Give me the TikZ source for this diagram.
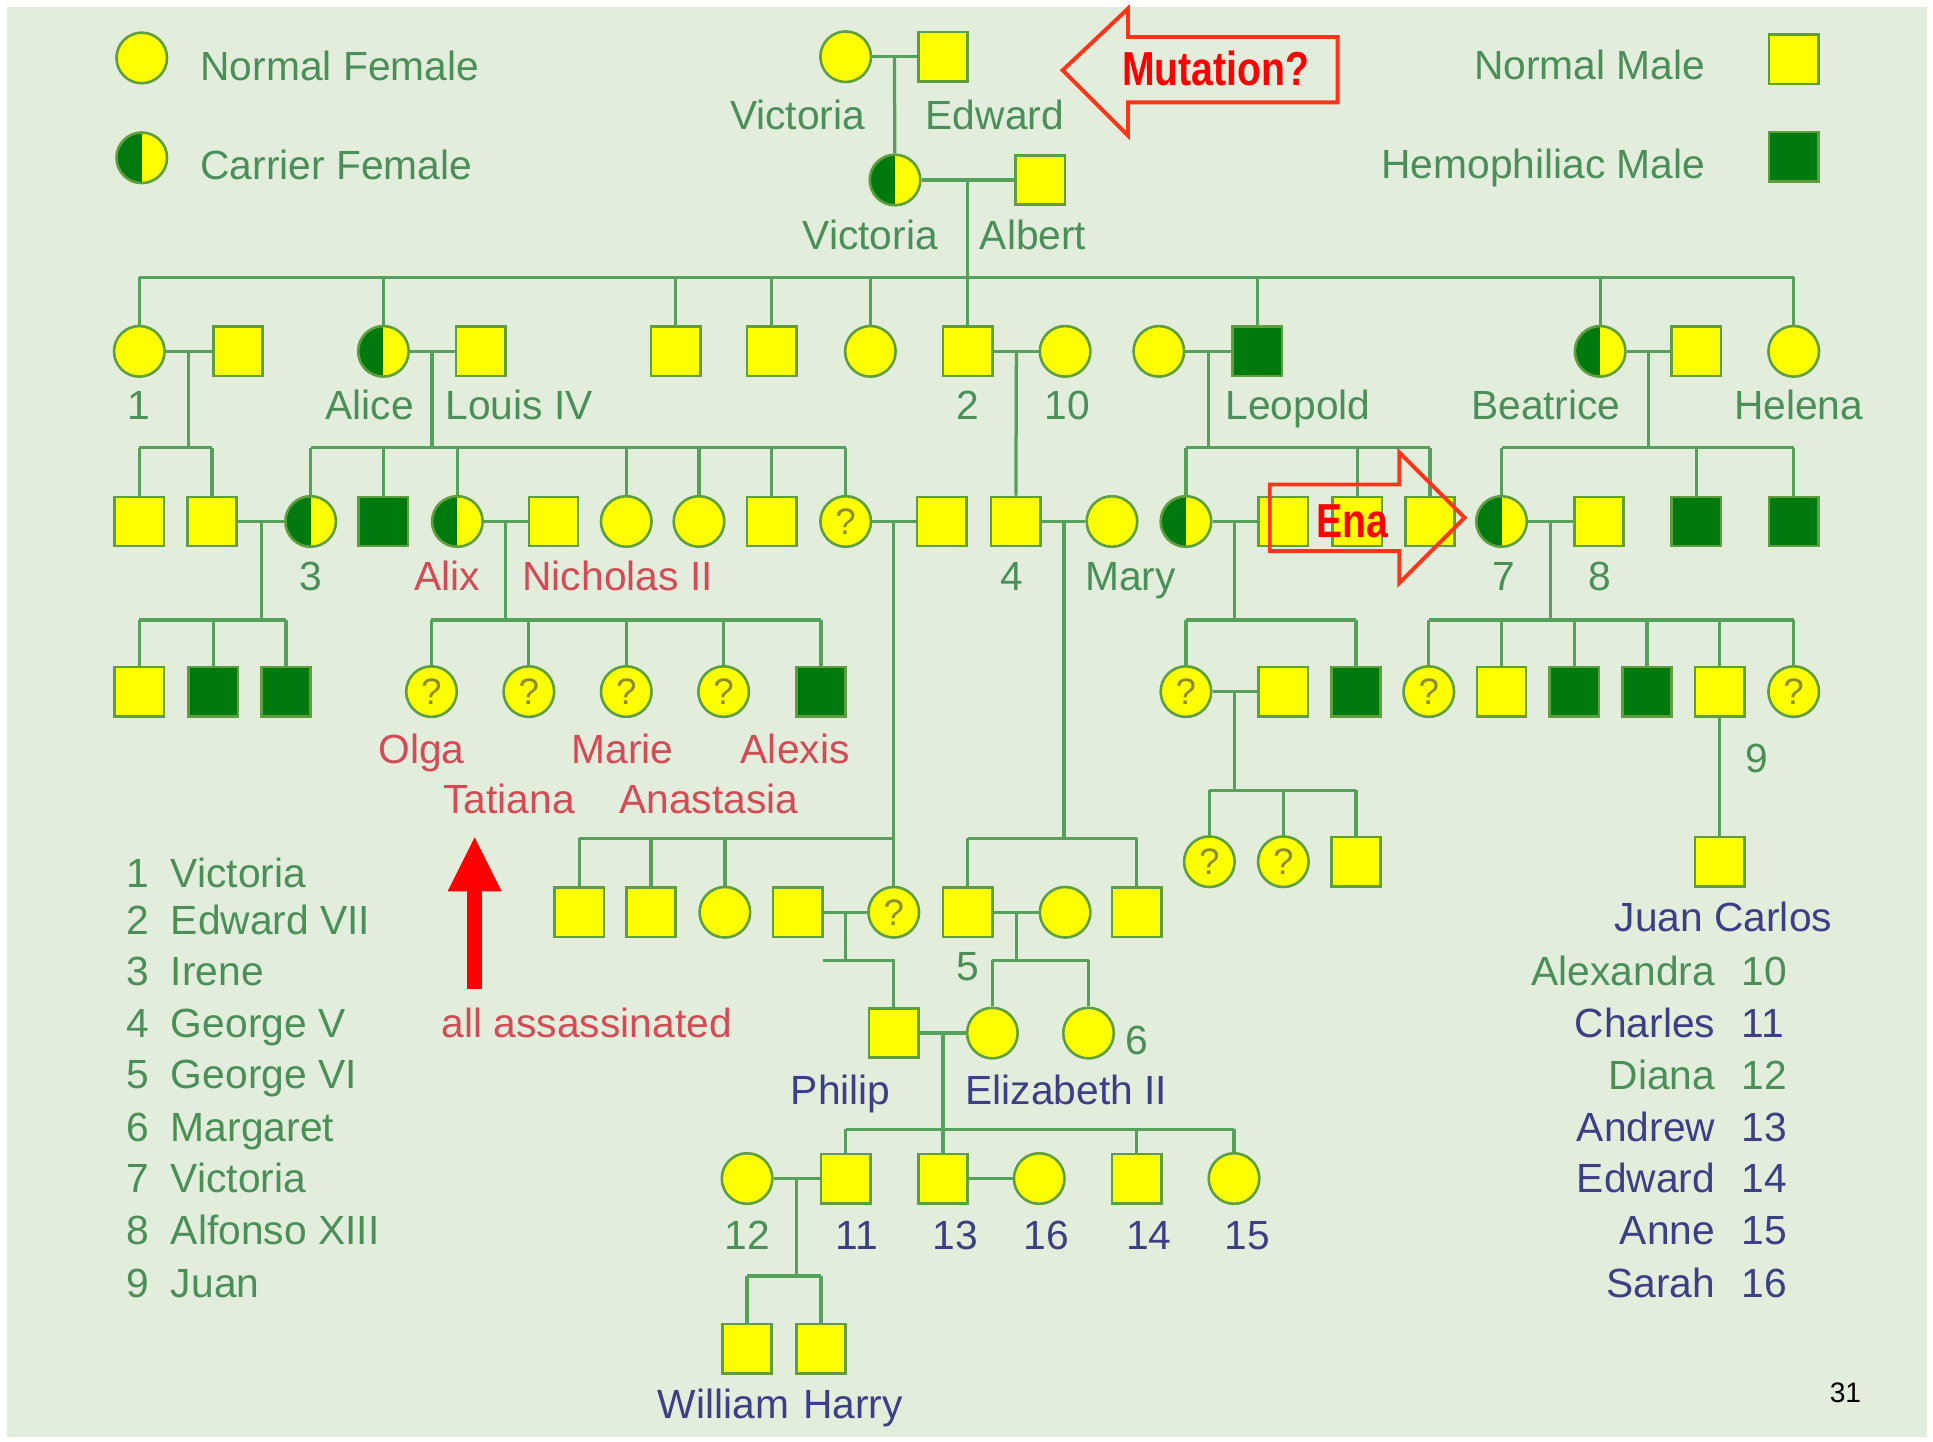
\documentclass[tikz,border=0pt]{standalone}
\usepackage{fontspec}
\setmainfont{Liberation Sans}
\newfontfamily\narrowfont[FakeStretch=0.82]{Liberation Sans}
\usetikzlibrary{positioning,arrows.meta,calc}
\definecolor{bgc}{HTML}{E3EDDC}
\definecolor{symyel}{HTML}{FFFF00}
\definecolor{symedge}{HTML}{5E9E3E}
\definecolor{hemgreen}{HTML}{00790E}
\definecolor{linegreen}{HTML}{55A05A}
\definecolor{txtgreen}{HTML}{4A8F58}
\definecolor{txtred}{HTML}{D44A55}
\definecolor{txtnavy}{HTML}{3D3F85}
\definecolor{qmark}{HTML}{8C8C2A}
\definecolor{annot}{HTML}{FF3418}
\tikzset{
  sym/.style={draw=symedge,line width=0.6pt,inner sep=0pt},
  male/.style={sym,rectangle,fill=symyel,minimum size=4mm},
  hemo/.style={sym,rectangle,fill=hemgreen,minimum size=4mm},
  fem/.style={sym,circle,fill=symyel,minimum size=4.1mm},
  carr/.style={fem,path picture={\fill[hemgreen] (path picture bounding box.south west) rectangle (path picture bounding box.north);}},
  qfem/.style={fem,font=\fontsize{8.5}{8.5}\selectfont,text=qmark},
  lnk/.style={draw=linegreen,line width=0.75pt},
  lbl/.style={inner sep=0pt,font=\fontsize{9.4}{11}\selectfont,text=txtgreen,text height=0.72em,text depth=0pt},
  rlbl/.style={lbl,text=txtred},
  nlbl/.style={lbl,text=txtnavy},
  blk/.style={draw=annot,line width=0.9pt,line join=miter},
  note/.style={inner sep=0pt,font=\narrowfont\bfseries\fontsize{11}{13}\selectfont,text=red,text height=0.72em,text depth=0pt},
  redarr/.style={draw=red,line width=1.2mm,-{Triangle[width=4mm,length=4.5mm]}},
}
\begin{document}
\begin{tikzpicture}[x=0.01cm,y=-0.01cm]
  \useasboundingbox (0,0) rectangle (1568,1169);
  \fill[white] (0,0) rectangle (1568,1169);
  \fill[bgc] (6,6) rectangle (1563,1166);

  % legend
  \node[fem] (lgf) at (115,47) {};
  \node[carr] (lgc) at (115,128) {};
  \node[male] (lgm) at (1455,48) {};
  \node[hemo] (lgh) at (1455,127) {};
  \node[lbl,anchor=west] (tlgf) at (162,53) {Normal Female};
  \node[lbl,anchor=west] (tlgc) at (162,133) {Carrier Female};
  \node[lbl,anchor=east] (tlgm) at (1384,52) {Normal Male};
  \node[lbl,anchor=east] (tlgh) at (1384,132) {Hemophiliac Male};

  % generation 0
  \node[fem] (vicA) at (686,46) {};
  \node[male] (edw) at (765,46) {};
  \node[carr] (vicB) at (726,146) {};
  \node[male] (alb) at (844,146) {};

  % generation 1
  \node[fem] (vic1) at (113,285) {};
  \node[male] (fri) at (193,285) {};
  \node[carr] (alice) at (311,285) {};
  \node[male] (louis) at (390,285) {};
  \node[male] (alfr) at (548,285) {};
  \node[male] (arth) at (626,285) {};
  \node[fem] (lou) at (706,285) {};
  \node[male] (ed7) at (785,285) {};
  \node[fem] (alex) at (864,285) {};
  \node[fem] (hwal) at (940,285) {};
  \node[hemo] (leo) at (1020,285) {};
  \node[carr] (bea) at (1298,285) {};
  \node[male] (hen) at (1376,285) {};
  \node[fem] (hel) at (1455,285) {};

  % generation 2
  \node[male] (wil) at (113,423) {};
  \node[male] (hen2) at (172,423) {};
  \node[carr] (irene) at (252,423) {};
  \node[hemo] (fritz) at (311,423) {};
  \node[carr] (alix) at (371,423) {};
  \node[male] (nic) at (449,423) {};
  \node[fem] (ella) at (508,423) {};
  \node[fem] (vict) at (567,423) {};
  \node[male] (ernst) at (626,423) {};
  \node[qfem] (vhes) at (686,423) {?};
  \node[male] (lud) at (764,423) {};
  \node[male] (geo) at (824,423) {};
  \node[fem] (mary) at (902,423) {};
  \node[carr] (alA) at (962,423) {};
  \node[male] (alAsp) at (1041,423) {};
  \node[male] (cA) at (1101,423) {};
  \node[male] (cB) at (1160,423) {};
  \node[carr] (ena) at (1218,423) {};
  \node[male] (alf) at (1297,423) {};
  \node[hemo] (cC) at (1376,423) {};
  \node[hemo] (cD) at (1455,423) {};

  % generation 3
  \node[male] (h1) at (113,561) {};
  \node[hemo] (h2) at (173,561) {};
  \node[hemo] (h3) at (232,561) {};
  \node[qfem] (olga) at (350,561) {?};
  \node[qfem] (tat) at (429,561) {?};
  \node[qfem] (marie) at (508,561) {?};
  \node[qfem] (ana) at (587,561) {?};
  \node[hemo] (alexis) at (666,561) {};
  \node[qfem] (aa1) at (962,561) {?};
  \node[male] (aa1sp) at (1041,561) {};
  \node[hemo] (aa2) at (1100,561) {};
  \node[qfem] (sp1) at (1159,561) {?};
  \node[male] (sp2) at (1218,561) {};
  \node[hemo] (sp3) at (1277,561) {};
  \node[hemo] (sp4) at (1336,561) {};
  \node[male] (juan) at (1395,561) {};
  \node[qfem] (sp6) at (1455,561) {?};

  % generation 4
  \node[male] (k1) at (470,740) {};
  \node[male] (k2) at (528,740) {};
  \node[fem] (k3) at (588,740) {};
  \node[male] (andr) at (647,740) {};
  \node[qfem] (abat) at (725,740) {?};
  \node[male] (g6) at (785,740) {};
  \node[fem] (elbl) at (864,740) {};
  \node[male] (g7) at (922,740) {};
  \node[qfem] (t1) at (981,699) {?};
  \node[qfem] (t2) at (1041,699) {?};
  \node[male] (t3) at (1100,699) {};
  \node[male] (juanc) at (1395,699) {};

  % generations 5 to 7
  \node[male] (philip) at (725,838) {};
  \node[fem] (lili) at (805,838) {};
  \node[fem] (marg) at (883,838) {};
  \node[fem] (diana) at (606,956) {};
  \node[male] (charles) at (686,956) {};
  \node[male] (andrw) at (765,956) {};
  \node[fem] (sarah) at (843,956) {};
  \node[male] (edwd) at (922,956) {};
  \node[fem] (anne) at (1001,956) {};
  \node[male] (will) at (606,1094) {};
  \node[male] (harry) at (666,1094) {};

  % marriages
  \foreach \a/\b in {vicA/edw,vicB/alb,vic1/fri,alice/louis,ed7/alex,hwal/leo,bea/hen,hen2/irene,alix/nic,vhes/lud,geo/mary,alA/alAsp,ena/alf,aa1/aa1sp,andr/abat,g6/elbl,philip/lili,diana/charles,andrw/sarah}
    \draw[lnk] (\a) -- (\b);

  % single descents
  \draw[lnk] ($(vicA)!.5!(edw)$) -- (vicB);
  \draw[lnk] ($(ed7)!.5!(alex)$) -- (geo);
  \draw[lnk] (juan) -- (juanc);

  % sibship bars
  \coordinate (r1) at (785,225);
  \draw[lnk] ($(vicB)!.5!(alb)$) -- (r1);
  \draw[lnk] (vic1|-r1) -- (hel|-r1);
  \foreach \k in {vic1,alice,alfr,arth,lou,ed7,leo,bea,hel} \draw[lnk] (\k) -- (\k|-r1);

  \coordinate (r2) at (153,363);
  \draw[lnk] ($(vic1)!.5!(fri)$) -- (r2);
  \draw[lnk] (wil|-r2) -- (hen2|-r2);
  \foreach \k in {wil,hen2} \draw[lnk] (\k) -- (\k|-r2);

  \coordinate (r3) at (350.5,363);
  \draw[lnk] ($(alice)!.5!(louis)$) -- (r3);
  \draw[lnk] (irene|-r3) -- (vhes|-r3);
  \foreach \k in {irene,fritz,alix,ella,vict,ernst,vhes} \draw[lnk] (\k) -- (\k|-r3);

  \coordinate (r5) at (980,363);
  \draw[lnk] ($(hwal)!.5!(leo)$) -- (r5);
  \draw[lnk] (alA|-r5) -- (cB|-r5);
  \foreach \k in {alA,cA,cB} \draw[lnk] (\k) -- (\k|-r5);

  \coordinate (r6) at (1337,363);
  \draw[lnk] ($(bea)!.5!(hen)$) -- (r6);
  \draw[lnk] (ena|-r6) -- (cD|-r6);
  \foreach \k in {ena,cC,cD} \draw[lnk] (\k) -- (\k|-r6);

  \coordinate (r7) at (212,503);
  \draw[lnk] ($(hen2)!.5!(irene)$) -- (r7);
  \draw[lnk] (h1|-r7) -- (h3|-r7);
  \foreach \k in {h1,h2,h3} \draw[lnk] (\k) -- (\k|-r7);

  \coordinate (r8) at (410,503);
  \draw[lnk] ($(alix)!.5!(nic)$) -- (r8);
  \draw[lnk] (olga|-r8) -- (alexis|-r8);
  \foreach \k in {olga,tat,marie,ana,alexis} \draw[lnk] (\k) -- (\k|-r8);

  \coordinate (r9) at (725,680);
  \draw[lnk] ($(vhes)!.5!(lud)$) -- (r9);
  \draw[lnk] (k1|-r9) -- (abat|-r9);
  \foreach \k in {k1,k2,k3,abat} \draw[lnk] (\k) -- (\k|-r9);

  \coordinate (r10) at (863,680);
  \draw[lnk] ($(geo)!.5!(mary)$) -- (r10);
  \draw[lnk] (g6|-r10) -- (g7|-r10);
  \foreach \k in {g6,g7} \draw[lnk] (\k) -- (\k|-r10);

  \coordinate (r11) at (1001.5,503);
  \draw[lnk] ($(alA)!.5!(alAsp)$) -- (r11);
  \draw[lnk] (aa1|-r11) -- (aa2|-r11);
  \foreach \k in {aa1,aa2} \draw[lnk] (\k) -- (\k|-r11);

  \coordinate (r12) at (1257.5,503);
  \draw[lnk] ($(ena)!.5!(alf)$) -- (r12);
  \draw[lnk] (sp1|-r12) -- (sp6|-r12);
  \foreach \k in {sp1,sp2,sp3,sp4,juan,sp6} \draw[lnk] (\k) -- (\k|-r12);

  \coordinate (r13) at (1001.5,641);
  \draw[lnk] ($(aa1)!.5!(aa1sp)$) -- (r13);
  \draw[lnk] (t1|-r13) -- (t3|-r13);
  \foreach \k in {t1,t2,t3} \draw[lnk] (\k) -- (\k|-r13);

  \coordinate (r15) at (686,779);
  \coordinate (r15s) at (668,779);
  \draw[lnk] ($(andr)!.5!(abat)$) -- (r15);
  \draw[lnk] (r15s) -- (philip|-r15) -- (philip);

  \coordinate (r16) at (824.5,779);
  \draw[lnk] ($(g6)!.5!(elbl)$) -- (r16);
  \draw[lnk] (lili|-r16) -- (marg|-r16);
  \foreach \k in {lili,marg} \draw[lnk] (\k) -- (\k|-r16);

  \coordinate (r17) at (765,916);
  \draw[lnk] ($(philip)!.5!(lili)$) -- (r17);
  \draw[lnk] (charles|-r17) -- (anne|-r17);
  \foreach \k in {charles,andrw,edwd,anne} \draw[lnk] (\k) -- (\k|-r17);

  \coordinate (r18) at (646,1035);
  \draw[lnk] ($(diana)!.5!(charles)$) -- (r18);
  \draw[lnk] (will|-r18) -- (harry|-r18);
  \foreach \k in {will,harry} \draw[lnk] (\k) -- (\k|-r18);

  % names
  \node[lbl] (tvicA) at (647,92) {Victoria};
  \node[lbl] (tedw) at (807,92) {Edward};
  \node[lbl] (tvicB) at (706,190) {Victoria};
  \node[lbl] (talb) at (838,190) {Albert};
  \node[lbl] (tvic1) at (113,328) {1};
  \node[lbl] (talice) at (300,328) {Alice};
  \node[lbl] (tlouis) at (421,328) {Louis IV};
  \node[lbl] (ted7) at (785,328) {2};
  \node[lbl] (talex) at (866,328) {10};
  \node[lbl] (tleo) at (1053,328) {Leopold};
  \node[lbl] (tbea) at (1254,328) {Beatrice};
  \node[lbl] (thel) at (1459,328) {Helena};
  \node[lbl] (tirene) at (252,466) {3};
  \node[rlbl] (talix) at (363,466) {Alix};
  \node[rlbl] (tnic) at (501,466) {Nicholas II};
  \node[lbl] (tgeo) at (821,466) {4};
  \node[lbl] (tmary) at (917,466) {Mary};
  \node[lbl] (tena) at (1220,466) {7};
  \node[lbl] (talf) at (1298,466) {8};
  \node[rlbl] (tolga) at (342,607) {Olga};
  \node[rlbl] (ttat) at (413,647) {Tatiana};
  \node[rlbl] (tmarie) at (505,607) {Marie};
  \node[rlbl] (tana) at (575,647) {Anastasia};
  \node[rlbl] (talexis) at (645,607) {Alexis};
  \node[lbl] (tjuan) at (1425,614) {9};
  \node[nlbl] (tjuanc) at (1398,743) {Juan Carlos};
  \node[lbl] (tg6) at (785,783) {5};
  \node[lbl] (tmarg) at (922,843) {6};
  \node[nlbl] (tphilip) at (682,883) {Philip};
  \node[nlbl] (tlili) at (865,883) {Elizabeth II};
  \node[lbl] (tdiana) at (606,1001) {12};
  \node[nlbl] (tcharles) at (695,1001) {11};
  \node[nlbl] (tandrw) at (775,1001) {13};
  \node[nlbl] (tsarah) at (849,1001) {16};
  \node[nlbl] (tedwd) at (932,1001) {14};
  \node[nlbl] (tanne) at (1012,1001) {15};
  \node[nlbl] (twill) at (587,1138) {William};
  \node[nlbl] (tharry) at (692,1138) {Harry};

  % key lists
  \foreach \n/\t/\y in {1/Victoria/707,2/Edward VII/745,3/Irene/787,4/George V/829,5/George VI/870,6/Margaret/913,7/Victoria/955,8/Alfonso XIII/997,9/Juan/1040}{
    \node[lbl,anchor=east] (kn\n) at (122,\y) {\n};
    \node[lbl,anchor=west] (kt\n) at (138,\y) {\t};
  }
  \foreach \n/\t/\s/\y in {10/Alexandra/lbl/787,11/Charles/nlbl/829,12/Diana/lbl/871,13/Andrew/nlbl/913,14/Edward/nlbl/955,15/Anne/nlbl/997,16/Sarah/nlbl/1040}{
    \node[\s,anchor=east] (rt\n) at (1392,\y) {\t};
    \node[\s,anchor=west] (rn\n) at (1412,\y) {\n};
  }

  % annotations
  \draw[blk] (862,57) -- (915,7) -- (915,30) -- (1085,30) -- (1085,83) -- (915,83) -- (915,110) -- cycle;
  \node[note] (mut) at (986,57) {Mutation?};
  \draw[blk] (1030,393) -- (1135,393) -- (1135,367) -- (1188,420) -- (1135,473) -- (1135,447) -- (1030,447) -- cycle;
  \node[note] (tena2) at (1097,423) {Ena};
  \node[rlbl] (assn) at (476,829) {all assassinated};
  \coordinate (atail) at (385,802);
  \coordinate (atip) at (385,678);
  \draw[redarr] (atail) -- (atip);
  \node[inner sep=0pt,font=\fontsize{6.5}{8}\selectfont] (pg) at (1497,1130) {31};
\end{tikzpicture}
\end{document}
